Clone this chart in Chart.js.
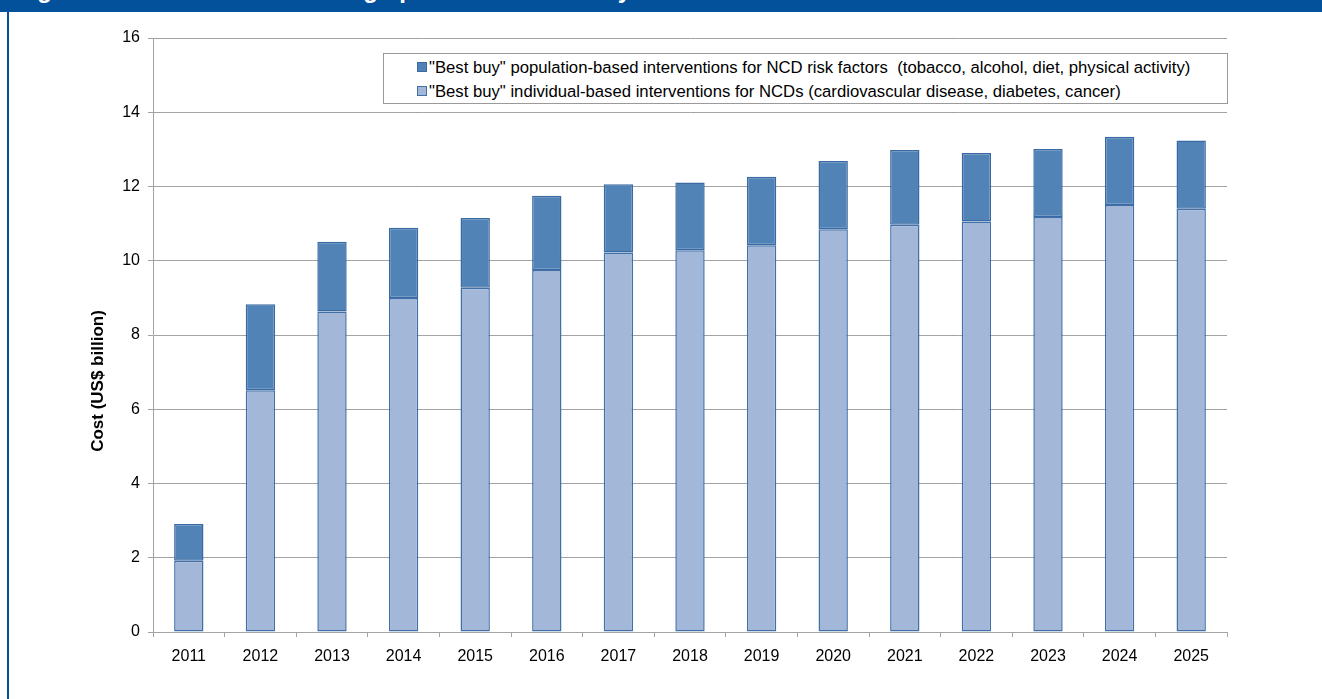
<!DOCTYPE html>
<html>
<head>
<meta charset="utf-8">
<script src="https://cdn.jsdelivr.net/npm/chart.js@4"></script>
<style>
  body { margin: 0; background: #fff; font-family: "Liberation Sans", Arial, sans-serif; }
  #banner { position: absolute; left: 0; top: 0; width: 1322px; height: 12px; background: #03519b; overflow: hidden; }
  #banner span { position: absolute; left: 16px; top: -22px; line-height: 24px; font-size: 24px; font-weight: bold; color: #fff; white-space: nowrap; }
  #frame { position: absolute; left: 7px; top: 12px; width: 2px; height: 687px; background: #03519b; }
  #wrap { position: absolute; left: 0; top: 0; width: 1322px; height: 699px; }
  #legend { position: absolute; left: 383px; top: 53px; width: 843px; height: 49px; border: 1px solid #9a9a9a; background: #fff; font-size: 16.7px; color: #000; }
  .item { position: absolute; left: 33px; height: 20px; line-height: 20px; white-space: pre; }
  .box { display: inline-block; width: 8px; height: 8px; margin-right: 2px; vertical-align: 1px; }
</style>
</head>
<body>
<div id="wrap"><canvas id="myChart" width="1322" height="699"></canvas></div>
<div id="banner"><span>Figure 3. Annual cost of scaling up the core “best buy” interventions in low- and middle-income countries</span></div>
<div id="frame"></div>
<div id="legend"></div>
<script>
const years = ['2011', '2012', '2013', '2014', '2015', '2016', '2017', '2018', '2019', '2020', '2021', '2022', '2023', '2024', '2025'];
const individualCost = [1.92, 6.51, 8.63, 9.00, 9.27, 9.75, 10.22, 10.28, 10.42, 10.85, 10.97, 11.06, 11.18, 11.50, 11.40];
const populationCost = [0.99, 2.32, 1.88, 1.89, 1.88, 2.00, 1.84, 1.83, 1.84, 1.84, 2.01, 1.84, 1.83, 1.84, 1.84];
const individualLabel = '"Best buy" individual-based interventions for NCDs (cardiovascular disease, diabetes, cancer)';
const populationLabel = '"Best buy" population-based interventions for NCD risk factors  (tobacco, alcohol, diet, physical activity)';
const yAxisTitle = 'Cost (US$ billion)';

const gridColor = '#a3a3a3';
const tickFont = { family: '"Liberation Sans", Arial, sans-serif', size: 16 };

// rotated y axis title, sits a bit below the middle of the plot like the original
const yTitlePlugin = {
  id: 'yTitle',
  afterDraw(chart) {
    const ctx = chart.ctx;
    ctx.save();
    ctx.translate(98, 381);
    ctx.rotate(-Math.PI / 2);
    ctx.font = 'bold 17px "Liberation Sans", Arial, sans-serif';
    ctx.fillStyle = '#000';
    ctx.textAlign = 'center';
    ctx.textBaseline = 'middle';
    ctx.fillText(yAxisTitle, 0, 0);
    ctx.restore();
  }
};

const ctx = document.getElementById('myChart').getContext('2d');
const chart = new Chart(ctx, {
  type: 'bar',
  data: {
    labels: years,
    datasets: [{
      label: individualLabel,
      data: individualCost,
      backgroundColor: '#a3b7d9',
      borderColor: '#416fa8',
      borderWidth: 1.5,
      borderSkipped: false,
      barPercentage: 0.41,
      categoryPercentage: 1
    }, {
      label: populationLabel,
      data: populationCost,
      backgroundColor: '#5183b7',
      borderColor: '#3a6aa3',
      borderWidth: 1.5,
      borderSkipped: false,
      barPercentage: 0.41,
      categoryPercentage: 1
    }]
  },
  options: {
    responsive: false,
    animation: false,
    layout: { padding: { left: 0, right: 95, top: 38, bottom: 0 } },
    plugins: {
      legend: { display: false },
      tooltip: { enabled: false }
    },
    scales: {
      x: {
        stacked: true,
        grid: { display: true, drawOnChartArea: false, drawTicks: true, tickLength: 5, color: gridColor },
        border: { display: true, color: gridColor },
        ticks: { color: '#000', font: tickFont, padding: 10, maxRotation: 0 },
        afterFit(scale) { scale.height = 67; }
      },
      y: {
        stacked: true,
        min: 0,
        max: 16,
        grid: { color: gridColor, tickLength: 5 },
        border: { display: true, color: gridColor },
        ticks: { stepSize: 2, color: '#000', font: tickFont, padding: 8 },
        afterFit(scale) { scale.width = 153; }
      }
    }
  },
  plugins: [yTitlePlugin]
});

// legend box drawn in html, dark series first like the original
const legend = document.getElementById('legend');
[1, 0].forEach(function(i, row) {
  const ds = chart.data.datasets[i];
  const item = document.createElement('div');
  item.className = 'item';
  item.style.top = (row === 0 ? 4 : 28) + 'px';
  const box = document.createElement('span');
  box.className = 'box';
  box.style.background = ds.backgroundColor;
  box.style.border = '1px solid ' + ds.borderColor;
  item.appendChild(box);
  item.appendChild(document.createTextNode(ds.label));
  legend.appendChild(item);
});
</script>
</body>
</html>
